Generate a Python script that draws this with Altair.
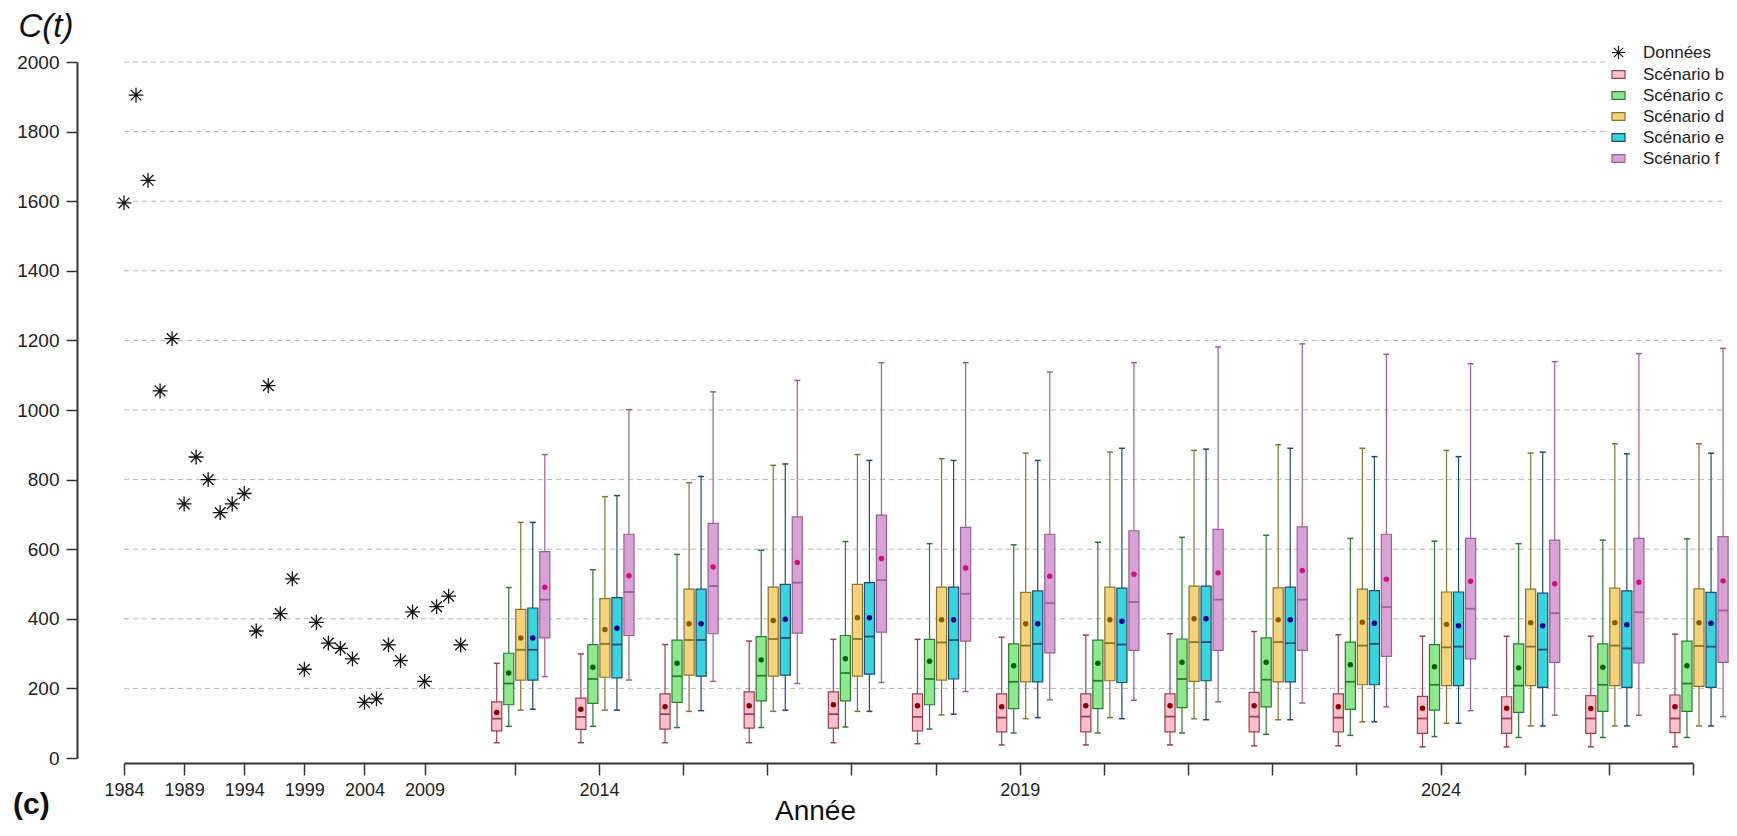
import altair as alt
import pandas as pd

# ---------------- data ----------------
obs_years = list(range(1984, 2013))
obs_values = [1595, 1905, 1660, 1055, 1205, 730, 865, 800, 705, 730, 760, 365, 1070,
              415, 515, 255, 390, 330, 315, 285, 160, 170, 325, 280, 420, 220, 435, 465, 325]

proj_years = list(range(2013, 2028))
scenarios = ["Scénario b", "Scénario c", "Scénario d", "Scénario e", "Scénario f"]
series = ["Données"] + scenarios

b_min = [44, 44, 44, 44, 44, 41, 37.5, 37.5, 37.5, 35, 35, 32, 32, 32, 32]
b_q1 = [78, 82, 83, 86, 86, 78, 75, 75, 75, 75, 75, 71, 71, 71, 73]
b_med = [113, 118, 126, 126, 126, 118, 116, 119, 119, 119, 116, 113.5, 113.5, 113.5, 113.5]
b_q3 = [161.5, 172, 184, 190, 190, 184, 184, 184, 184, 188.5, 184, 177, 176, 179, 181]
b_max = [272, 299, 326, 336, 341, 341, 347, 353, 357, 363.5, 354, 350, 350, 350, 356]
b_mean = [131, 140, 147, 150, 153, 150, 147, 150, 150, 150, 147, 143, 143, 142, 147]

c_min = [91, 91, 87.5, 87.5, 89, 83, 72, 72, 72, 68, 65, 61.5, 59, 59, 59]
c_q1 = [153, 157, 160, 164, 164, 153, 142, 142, 145, 147, 140, 137.5, 131, 134, 134]
c_med = [214, 227, 235, 236.5, 244, 227, 219, 222, 227, 225, 219, 210.5, 208, 210.5, 214]
c_q3 = [301, 326, 339, 349, 352, 341, 328, 339, 342, 345, 333, 326, 328, 328, 336]
c_max = [490, 541, 585, 597, 622, 616, 612.5, 620, 634, 640, 631, 623, 616, 626, 630]
c_mean = [244, 261, 272, 282, 285, 278, 265, 272, 275, 275, 268, 262.5, 259, 261, 265]

d_min = [137.5, 137.5, 134, 134, 134, 124, 113, 116, 113, 110, 104, 100, 92, 92, 92]
d_q1 = [224, 232, 238, 235, 235, 224, 219, 222, 220, 219, 210.5, 208, 208, 208, 206]
d_med = [311, 328, 339, 342, 342, 332, 323, 330, 333, 333, 323, 318, 320, 323, 322]
d_q3 = [427, 458, 485, 491, 499, 491, 476, 491, 494, 489, 485, 477, 485, 488, 486]
d_max = [677, 751, 791, 841, 872, 860, 876, 879, 884, 900, 890, 884, 876, 903, 903]
d_mean = [345, 369, 386, 395, 403, 397, 386, 397, 400, 397, 390, 384, 389, 389, 389]

e_min = [140, 137.5, 136, 137.5, 134, 126, 116, 113, 110, 110, 104, 100, 92, 92, 92]
e_q1 = [224, 230, 235, 238, 241, 227, 219, 217, 222, 219, 210.5, 208, 203, 203, 203]
e_med = [311, 326, 339, 345, 349, 339, 328, 326, 333, 330, 328, 320, 311.5, 315, 320]
e_q3 = [431, 461, 485, 499, 504, 491, 480, 488, 494, 491, 481, 477, 474, 480, 476]
e_max = [677, 754, 809, 845, 855, 855, 855, 890, 887.5, 890, 866, 866, 879, 874, 876]
e_mean = [345, 373, 386, 399, 403, 397, 386, 393, 400, 397, 387.5, 380, 380, 383, 387.5]

f_min = [234, 224, 220, 214, 217, 191, 167, 166, 161.5, 158, 147, 136, 123, 123, 119]
f_q1 = [345, 352, 357, 359, 361.5, 336, 302, 309, 309, 309, 292, 285, 275, 273, 275]
f_med = [455, 477, 494, 504, 511, 472, 445, 448, 455, 455, 434, 429, 416, 419, 424]
f_q3 = [593, 643, 674, 693, 698, 662.5, 643, 653, 657, 664, 643, 631, 626, 631, 636]
f_max = [872, 1001, 1052, 1085, 1136, 1136, 1109, 1136, 1181, 1190, 1160, 1133, 1139, 1162, 1177]
f_mean = [491, 524, 549, 561.5, 573, 546, 522, 528, 532, 539, 514, 508, 501, 505, 509]

stats = {
    "Scénario b": (b_min, b_q1, b_med, b_q3, b_max, b_mean),
    "Scénario c": (c_min, c_q1, c_med, c_q3, c_max, c_mean),
    "Scénario d": (d_min, d_q1, d_med, d_q3, d_max, d_mean),
    "Scénario e": (e_min, e_q1, e_med, e_q3, e_max, e_mean),
    "Scénario f": (f_min, f_q1, f_med, f_q3, f_max, f_mean),
}

y_ticks = list(range(0, 2001, 200))

# ---------------- styles ----------------
FONT = "Liberation Sans"
fills = ["#F9BFCB", "#8FE88F", "#F3D37C", "#3DD3DD", "#D9A2D5"]
borders = ["#9A4050", "#2E7A34", "#8A7332", "#1E4C70", "#98609A"]
mean_cols = ["#8B0000", "#006400", "#8B5A00", "#00008B", "#C8157A"]
ASTER = "M-1,0L1,0M0,-1L0,1M-0.72,-0.72L0.72,0.72M-0.72,0.72L0.72,-0.72"
RECT = "M-1,-0.6H1V0.6H-1Z"

# x layout: one unit per observed year, wider slots for projected years
PROJ_START = 32.5   # position of 2013 tick
GROUP_W = 7         # units per projected year
X_END = 130.5

# ---------------- tables ----------------
obs_df = pd.DataFrame({"year": obs_years, "value": obs_values})
rows = []
for i, s in enumerate(scenarios):
    mn, q1, md, q3, mx, me = stats[s]
    for j, yr in enumerate(proj_years):
        rows.append(dict(year=yr, serie=s, idx=i, vmin=mn[j], q1=q1[j], med=md[j],
                         q3=q3[j], vmax=mx[j], mean=me[j],
                         fillc=fills[i], bordc=borders[i], meanc=mean_cols[i]))
box_df = pd.DataFrame(rows)
grid_df = pd.DataFrame({"g": y_ticks[1:]})
leg_df = pd.DataFrame({"serie": series})

x_tick_vals = [y - 1984 for y in range(1984, 2010, 5)] + \
              [PROJ_START + GROUP_W * (y - 2013) for y in proj_years]

label_expr = (
    "datum.value <= 28 ? format(1984 + datum.value, 'd') : "
    "(((round((datum.value - 32.5) / 7) + 2013) - 2014) % 5 === 0 ? "
    "format(round((datum.value - 32.5) / 7) + 2013, 'd') : '')"
)

xscale = alt.Scale(domain=[0, X_END], nice=False, zero=False)
yscale = alt.Scale(domain=[0, 2000], nice=False, zero=True)
fill_scale = alt.Scale(domain=series, range=["transparent"] + fills)
stroke_scale = alt.Scale(domain=series, range=["#111111"] + borders)
shape_scale = alt.Scale(domain=series, range=[ASTER] + [RECT] * 5)

x_axis = alt.Axis(
    values=x_tick_vals, labelExpr=label_expr, labelOverlap=False, labelFlush=False,
    labelFont=FONT, labelFontSize=18, labelColor="#222", labelPadding=6,
    tickSize=12, tickColor="#333", tickWidth=1.5, domainColor="#333", domainWidth=2,
    offset=5, grid=False, title="Année", titleFont=FONT, titleFontSize=28,
    titleFontWeight="normal", titleColor="#111", titleX=691, titleY=56,
    titleBaseline="alphabetic",
)
y_axis = alt.Axis(
    values=y_ticks, format="d", labelFont=FONT, labelFontSize=19, labelColor="#222",
    labelPadding=7, tickSize=11, tickColor="#333", tickWidth=1.5, domainColor="#333",
    domainWidth=2, offset=47, grid=False, title="C(t)", titleAngle=0,
    titleFont=FONT, titleFontSize=33, titleFontStyle="italic", titleFontWeight="normal",
    titleColor="#111", titleAlign="left", titleBaseline="alphabetic",
    titleX=-59, titleY=-26,
)

pos_expr = f"{PROJ_START} + {GROUP_W} * (datum.year - 2013) + (datum.idx - 1.5)"

box_base = alt.Chart(box_df).transform_calculate(
    pos=pos_expr,
    xl=f"({pos_expr}) - 0.42",
    xr=f"({pos_expr}) + 0.42",
    cl=f"({pos_expr}) - 0.25",
    cr=f"({pos_expr}) + 0.25",
)

grid = alt.Chart(grid_df).mark_rule(color="#b4b4b4", strokeDash=[5, 4], strokeWidth=1).encode(
    x=alt.X(datum=0, scale=xscale, axis=x_axis),
    x2=alt.X2(datum=133),
    y=alt.Y("g:Q", scale=yscale, axis=y_axis),
)

whisk = box_base.mark_rule(strokeWidth=1.2).encode(
    x=alt.X("pos:Q", scale=xscale, axis=x_axis),
    y=alt.Y("vmin:Q", scale=yscale, axis=y_axis),
    y2="vmax:Q",
    stroke=alt.Stroke("bordc:N", scale=None),
)

caps = box_base.transform_fold(["vmin", "vmax"], as_=["which", "v"]).mark_rule(
    strokeWidth=1.5).encode(
    x=alt.X("cl:Q", scale=xscale, axis=x_axis),
    x2="cr:Q",
    y=alt.Y("v:Q", scale=yscale, axis=y_axis),
    stroke=alt.Stroke("bordc:N", scale=None),
)

boxes = box_base.mark_rect(strokeWidth=1.2).encode(
    x=alt.X("xl:Q", scale=xscale, axis=x_axis),
    x2="xr:Q",
    y=alt.Y("q1:Q", scale=yscale, axis=y_axis),
    y2="q3:Q",
    fill=alt.Fill("fillc:N", scale=None),
    stroke=alt.Stroke("bordc:N", scale=None),
)

meds = box_base.mark_rule(strokeWidth=1.8).encode(
    x=alt.X("xl:Q", scale=xscale, axis=x_axis),
    x2="xr:Q",
    y=alt.Y("med:Q", scale=yscale, axis=y_axis),
    stroke=alt.Stroke("bordc:N", scale=None),
)

means = box_base.mark_circle(size=30, opacity=1).encode(
    x=alt.X("pos:Q", scale=xscale, axis=x_axis),
    y=alt.Y("mean:Q", scale=yscale, axis=y_axis),
    color=alt.Color("meanc:N", scale=None),
)

obs = alt.Chart(obs_df).transform_calculate(pos="datum.year - 1984").mark_point(
    shape=ASTER, size=220, strokeWidth=1.3, filled=False, opacity=1, color="#111111").encode(
    x=alt.X("pos:Q", scale=xscale, axis=x_axis),
    y=alt.Y("value:Q", scale=yscale, axis=y_axis),
)

legend = alt.Legend(
    title=None, orient="none", legendX=1482, legendY=-22, fillColor="white",
    padding=4, labelFont=FONT, labelFontSize=17, labelColor="#222", labelOffset=16,
    symbolSize=170, symbolStrokeWidth=1.2, symbolOpacity=1, rowPadding=3,
)

leg_layer = alt.Chart(leg_df).mark_point(filled=True, opacity=0, size=170).encode(
    shape=alt.Shape("serie:N", scale=shape_scale, legend=legend),
    fill=alt.Fill("serie:N", scale=fill_scale, legend=legend),
    stroke=alt.Stroke("serie:N", scale=stroke_scale, legend=legend),
)

chart = alt.layer(grid, whisk, caps, boxes, meds, means, obs, leg_layer).properties(
    width=1569,
    height=696,
    background="white",
    autosize=alt.AutoSizeParams(type="none"),
    padding={"left": 116, "top": 54, "right": 36, "bottom": 70},
    title=alt.TitleParams(
        text="(c)", orient="bottom", anchor="start", frame="group", dx=-111,
        offset=-35, fontSize=30, fontWeight="bold", font=FONT, color="#111",
    ),
).configure_view(stroke=None)

chart.save("out.html", embed_options={"renderer": "svg", "actions": False})
